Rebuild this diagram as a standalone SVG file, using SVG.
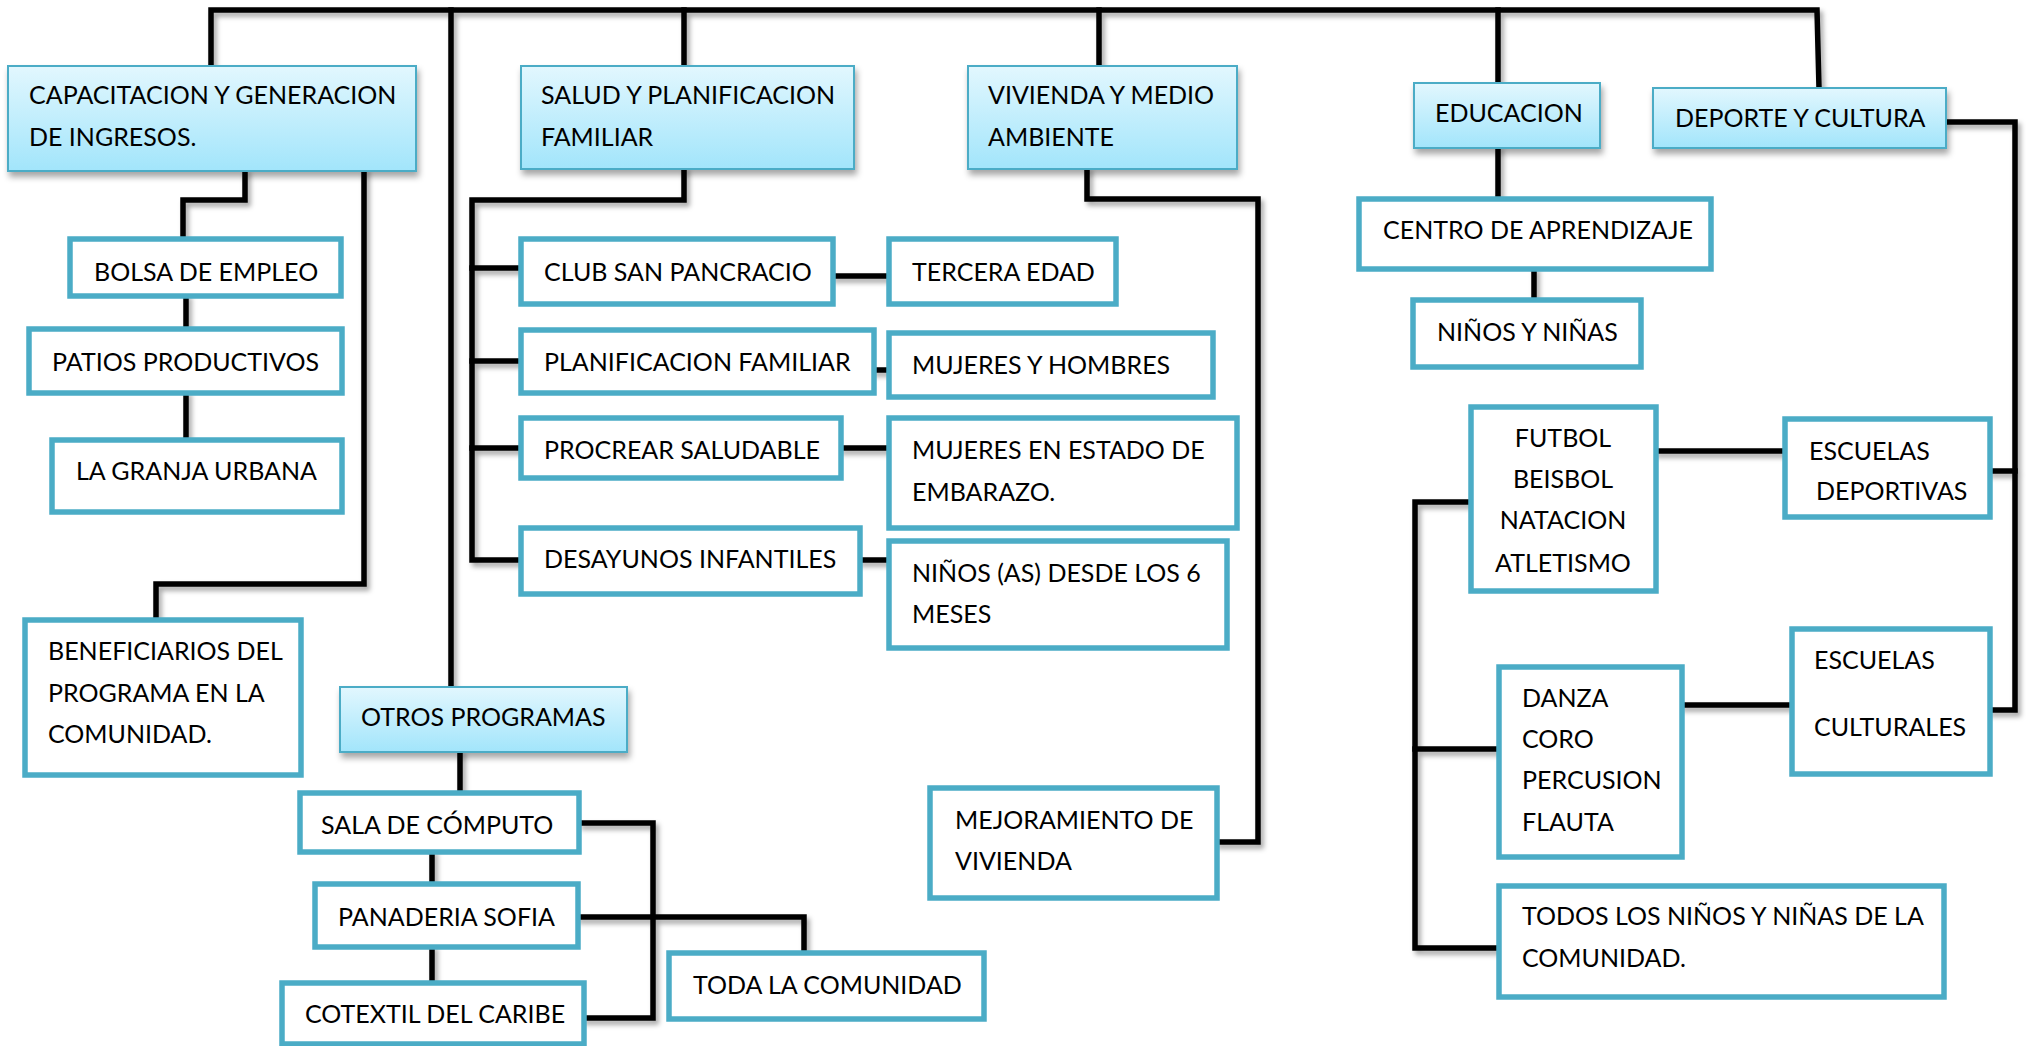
<svg xmlns="http://www.w3.org/2000/svg" width="2026" height="1046" viewBox="0 0 2026 1046">
<defs>
<linearGradient id="hdr" x1="0" y1="0" x2="0" y2="1">
<stop offset="0" stop-color="#e2f7fe"/>
<stop offset="1" stop-color="#a2e5fb"/>
</linearGradient>
<filter id="sh" x="-10%" y="-10%" width="130%" height="140%">
<feDropShadow dx="2" dy="5" stdDeviation="3" flood-color="#000" flood-opacity="0.35"/>
</filter>
<filter id="lsh" x="-5%" y="-5%" width="110%" height="110%">
<feDropShadow dx="3" dy="4" stdDeviation="2.5" flood-color="#000" flood-opacity="0.35"/>
</filter>
<style>
.hdr{fill:url(#hdr);stroke:#4bacc6;stroke-width:2;filter:url(#sh)}
.box{fill:#fff;stroke:#4bacc6;stroke-width:5.5}
text{font-family:Lato,"Noto Sans","Liberation Sans",sans-serif;font-size:25px;fill:#000}
.c{text-anchor:middle}
.ln{fill:none;stroke:#000;stroke-width:5.5;stroke-linejoin:miter;stroke-linecap:square}
</style>
</defs>
<rect width="2026" height="1046" fill="#fff"/>

<g id="connectors" filter="url(#lsh)">
<path class="ln" d="M211,66 V10 H1817 L1819,88"/>
<path class="ln" d="M451,10 V687"/>
<path class="ln" d="M684,10 V66"/>
<path class="ln" d="M1099,10 V66"/>
<path class="ln" d="M1498,10 V83"/>
<path class="ln" d="M245,171 V200 H183 V239"/>
<path class="ln" d="M186,296 V329"/>
<path class="ln" d="M186,393 V440"/>
<path class="ln" d="M364,170 V584 H156 V620"/>
<path class="ln" d="M684,169 V200 H472 V560 H521"/>
<path class="ln" d="M472,268 H521"/>
<path class="ln" d="M472,361 H521"/>
<path class="ln" d="M472,448 H521"/>
<path class="ln" d="M833,276 H889"/>
<path class="ln" d="M874,370 H889"/>
<path class="ln" d="M841,448 H889"/>
<path class="ln" d="M860,560 H889"/>
<path class="ln" d="M1087,169 V199 H1258 V842 H1217"/>
<path class="ln" d="M460,752 V793"/>
<path class="ln" d="M432,852 V884"/>
<path class="ln" d="M432,947 V983"/>
<path class="ln" d="M581,823 H653 V1018 H584"/>
<path class="ln" d="M578,917 H804 V953"/>
<path class="ln" d="M1498,148 V199"/>
<path class="ln" d="M1534,269 V300"/>
<path class="ln" d="M1946,122 H2015 V710 H1990"/>
<path class="ln" d="M2015,471 H1990"/>
<path class="ln" d="M1656,451 H1785"/>
<path class="ln" d="M1682,705 H1791"/>
<path class="ln" d="M1471,502 H1415 V948 H1499"/>
<path class="ln" d="M1415,749 H1499"/>
</g>

<g id="n-capacitacion"><rect class="hdr" x="8" y="66" width="408" height="105"/><text x="29" y="104">CAPACITACION Y GENERACION</text><text x="29" y="146">DE INGRESOS.</text></g>
<g id="n-salud"><rect class="hdr" x="521" y="66" width="333" height="103"/><text x="541" y="104">SALUD Y PLANIFICACION</text><text x="541" y="146">FAMILIAR</text></g>
<g id="n-vivienda"><rect class="hdr" x="968" y="66" width="269" height="103"/><text x="988" y="104">VIVIENDA Y MEDIO</text><text x="988" y="146">AMBIENTE</text></g>
<g id="n-educacion"><rect class="hdr" x="1414" y="83" width="186" height="65"/><text x="1435" y="122">EDUCACION</text></g>
<g id="n-deporte"><rect class="hdr" x="1653" y="88" width="293" height="60"/><text x="1675" y="127">DEPORTE Y CULTURA</text></g>
<g id="n-otros"><rect class="hdr" x="340" y="687" width="287" height="65"/><text x="361" y="726">OTROS PROGRAMAS</text></g>

<g id="n-bolsa"><rect class="box" x="70" y="239" width="271" height="57"/><text x="94" y="281">BOLSA DE EMPLEO</text></g>
<g id="n-patios"><rect class="box" x="29" y="329" width="313" height="64"/><text x="52" y="371">PATIOS PRODUCTIVOS</text></g>
<g id="n-granja"><rect class="box" x="52" y="440" width="290" height="72"/><text x="76" y="480">LA GRANJA URBANA</text></g>
<g id="n-beneficiarios"><rect class="box" x="25" y="620" width="276" height="155"/><text x="48" y="660">BENEFICIARIOS DEL</text><text x="48" y="702">PROGRAMA EN LA</text><text x="48" y="743">COMUNIDAD.</text></g>

<g id="n-club"><rect class="box" x="521" y="239" width="312" height="65"/><text x="544" y="281">CLUB SAN PANCRACIO</text></g>
<g id="n-tercera"><rect class="box" x="889" y="239" width="227" height="65"/><text x="912" y="281">TERCERA EDAD</text></g>
<g id="n-planificacion"><rect class="box" x="521" y="330" width="353" height="63"/><text x="544" y="371">PLANIFICACION FAMILIAR</text></g>
<g id="n-mujeres-hombres"><rect class="box" x="889" y="333" width="324" height="64"/><text x="912" y="374">MUJERES Y HOMBRES</text></g>
<g id="n-procrear"><rect class="box" x="521" y="418" width="320" height="60"/><text x="544" y="459">PROCREAR SALUDABLE</text></g>
<g id="n-embarazo"><rect class="box" x="889" y="418" width="348" height="110"/><text x="912" y="459">MUJERES EN ESTADO DE</text><text x="912" y="501">EMBARAZO.</text></g>
<g id="n-desayunos"><rect class="box" x="521" y="528" width="339" height="66"/><text x="544" y="568">DESAYUNOS INFANTILES</text></g>
<g id="n-ninos-as"><rect class="box" x="889" y="541" width="338" height="107"/><text x="912" y="582">NIÑOS (AS) DESDE LOS 6</text><text x="912" y="623">MESES</text></g>

<g id="n-sala"><rect class="box" x="300" y="793" width="279" height="59"/><text x="321" y="834">SALA DE CÓMPUTO</text></g>
<g id="n-panaderia"><rect class="box" x="315" y="884" width="263" height="63"/><text x="338" y="926">PANADERIA SOFIA</text></g>
<g id="n-cotextil"><rect class="box" x="282" y="983" width="302" height="61"/><text x="305" y="1023">COTEXTIL DEL CARIBE</text></g>
<g id="n-toda"><rect class="box" x="669" y="953" width="315" height="66"/><text x="693" y="994">TODA LA COMUNIDAD</text></g>
<g id="n-mejoramiento"><rect class="box" x="930" y="788" width="287" height="110"/><text x="955" y="829">MEJORAMIENTO DE</text><text x="955" y="870">VIVIENDA</text></g>

<g id="n-centro"><rect class="box" x="1359" y="199" width="352" height="70"/><text x="1383" y="239">CENTRO DE APRENDIZAJE</text></g>
<g id="n-ninos-ninas"><rect class="box" x="1413" y="300" width="228" height="67"/><text x="1437" y="341">NIÑOS Y NIÑAS</text></g>
<g id="n-deportes"><rect class="box" x="1471" y="407" width="185" height="184"/><text class="c" x="1563" y="447">FUTBOL</text><text class="c" x="1563" y="488">BEISBOL</text><text class="c" x="1563" y="529">NATACION</text><text class="c" x="1563" y="572">ATLETISMO</text></g>
<g id="n-escuelas-deportivas"><rect class="box" x="1785" y="419" width="205" height="98"/><text x="1809" y="460">ESCUELAS</text><text x="1816" y="500">DEPORTIVAS</text></g>
<g id="n-artes"><rect class="box" x="1499" y="667" width="183" height="190"/><text x="1522" y="707">DANZA</text><text x="1522" y="748">CORO</text><text x="1522" y="789">PERCUSION</text><text x="1522" y="831">FLAUTA</text></g>
<g id="n-escuelas-culturales"><rect class="box" x="1792" y="629" width="198" height="145"/><text x="1814" y="669">ESCUELAS</text><text x="1814" y="736">CULTURALES</text></g>
<g id="n-todos"><rect class="box" x="1499" y="886" width="445" height="111"/><text x="1522" y="925">TODOS LOS NIÑOS Y NIÑAS DE LA</text><text x="1522" y="967">COMUNIDAD.</text></g>
</svg>
